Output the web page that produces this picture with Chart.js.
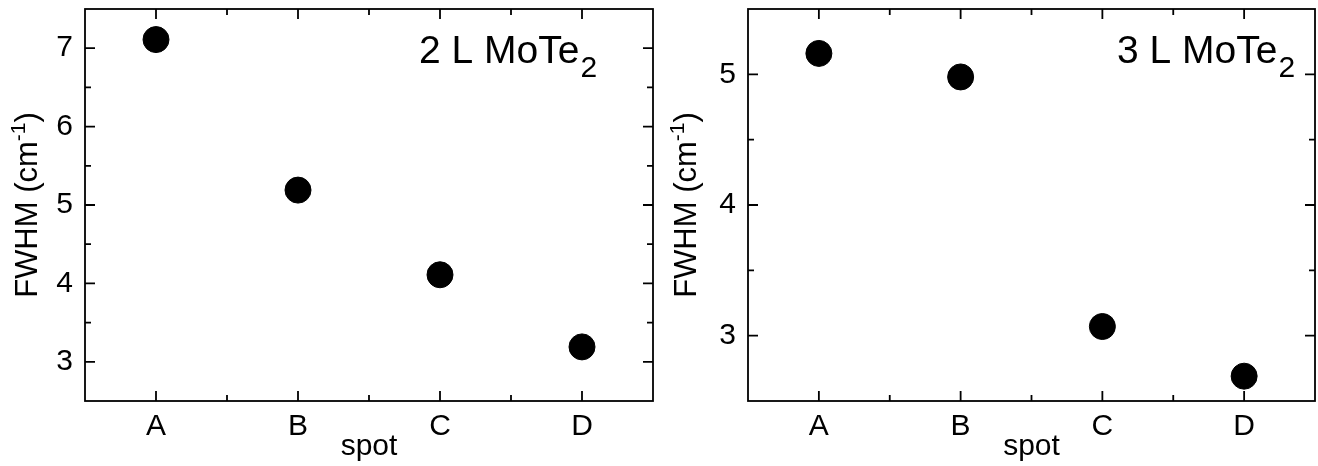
<!DOCTYPE html>
<html>
<head>
<meta charset="utf-8">
<script src="https://cdn.jsdelivr.net/npm/chart.js@4"></script>
<style>
  body { margin: 0; background: #fff; }
  .panel { position: absolute; top: 0; width: 659px; height: 466px; }
</style>
</head>
<body>
<div class="panel" style="left:0"><canvas id="chart2L" width="659" height="466"></canvas></div>
<div class="panel" style="left:659px"><canvas id="chart3L" width="659" height="466"></canvas></div>
<script>
/* ============== Data ============== */

const spots = ["A", "B", "C", "D"];
const fwhm2L = [7.11, 5.19, 4.11, 3.19];
const fwhm3L = [5.16, 4.98, 3.07, 2.69];
const yTicks2L = [3, 4, 5, 6, 7];
const yTicks3L = [3, 4, 5];

const FONT = "'Liberation Sans', Arial, sans-serif";

/* ============== Frame / inward ticks / labels plugin ============== */

/**
 * Draws the closed box with inward major and minor ticks, the rotated y title
 * with superscript and the sample label with subscript.
 */
const framePlugin = {
    id: "frame",
    afterDraw(chart, args, opts) {
        const ctx = chart.ctx;
        const {left, right, top, bottom} = chart.chartArea;
        const x = chart.scales.x;
        const y = chart.scales.y;
        const major = 10, minor = 6;

        ctx.save();
        ctx.strokeStyle = "#000";
        ctx.lineWidth = 1.8;
        ctx.strokeRect(left, top, right - left, bottom - top);

        ctx.beginPath();
        // x ticks: major at categories, minor between them
        for (let i = 0; i < spots.length; i++) {
            const px = x.getPixelForValue(i);
            ctx.moveTo(px, bottom); ctx.lineTo(px, bottom - major);
            ctx.moveTo(px, top); ctx.lineTo(px, top + major);
            if (i < spots.length - 1) {
                const pm = x.getPixelForValue(i + 0.5);
                ctx.moveTo(pm, bottom); ctx.lineTo(pm, bottom - minor);
                ctx.moveTo(pm, top); ctx.lineTo(pm, top + minor);
            }
        }
        // y ticks: every 0.5, major on whole numbers
        for (let v = y.min + 0.5; v < y.max - 0.01; v += 0.5) {
            const py = y.getPixelForValue(v);
            const len = Number.isInteger(v) ? major : minor;
            ctx.moveTo(left, py); ctx.lineTo(left + len, py);
            ctx.moveTo(right, py); ctx.lineTo(right - len, py);
        }
        ctx.stroke();

        ctx.fillStyle = "#000";
        ctx.textBaseline = "alphabetic";
        ctx.textAlign = "left";

        // sample label, e.g. 2 L MoTe2
        ctx.font = "39px " + FONT;
        const tx = left + opts.labelX;
        ctx.fillText(opts.label, tx, opts.labelY);
        const w = ctx.measureText(opts.label).width;
        ctx.font = "30px " + FONT;
        ctx.fillText("2", tx + w + 1, opts.labelY + 14);

        // y axis title FWHM (cm-1)
        const mainTxt = "FWHM (cm", supTxt = "-1", tailTxt = ")";
        ctx.font = "31px " + FONT;
        const w1 = ctx.measureText(mainTxt).width;
        const w3 = ctx.measureText(tailTxt).width;
        ctx.font = "21px " + FONT;
        const w2 = ctx.measureText(supTxt).width;
        const total = w1 + w2 + w3;
        ctx.translate(opts.titleX, (top + bottom) / 2);
        ctx.rotate(-Math.PI / 2);
        let cx = -total / 2;
        ctx.font = "31px " + FONT;
        ctx.fillText(mainTxt, cx, 0);
        cx += w1;
        ctx.font = "21px " + FONT;
        ctx.fillText(supTxt, cx, -12);
        cx += w2;
        ctx.font = "31px " + FONT;
        ctx.fillText(tailTxt, cx, 0);
        ctx.restore();
    }
};

/**
 * Removes the extra room Chart.js keeps for half tick labels at the axis ends.
 */
function clearScalePadding(scale) {
    scale.paddingTop = 0;
    scale.paddingBottom = 0;
    scale.paddingLeft = 0;
    scale.paddingRight = 0;
}

/* ============== Chart config ============== */

/**
 * Returns the configuration for one FWHM panel.
 * @param values FWHM per spot
 * @param yTicks tick values of the y axis
 * @param yMax upper limit of y axis
 * @param layout positions of the panel (axis width, paddings, labels)
 */
function configureFwhmChart(values, yTicks, yMax, layout) {
    return {
        type: "line",
        data: {
            labels: spots,
            datasets: [{
                data: values,
                showLine: false,
                pointRadius: 13,
                pointHoverRadius: 13,
                pointBackgroundColor: "#000",
                pointBorderColor: "#000",
                pointBorderWidth: 1,
                clip: false
            }]
        },
        options: {
            responsive: false,
            animation: false,
            devicePixelRatio: 1,
            events: [],
            layout: {autoPadding: false, padding: {top: 9, right: layout.padRight, left: 0, bottom: 0}},
            plugins: {
                legend: {display: false},
                tooltip: {enabled: false},
                frame: {label: layout.label, labelX: layout.labelX, labelY: 63, titleX: 37}
            },
            scales: {
                x: {
                    type: "category",
                    offset: true,
                    grid: {display: false, drawTicks: false},
                    border: {display: false},
                    ticks: {color: "#000", padding: 8, font: {family: FONT, size: 30}},
                    title: {
                        display: true, text: "spot", color: "#000",
                        font: {family: FONT, size: 30, lineHeight: 1.2},
                        padding: {top: 0, bottom: 1}
                    },
                    afterFit: scale => { scale.height = 65; clearScalePadding(scale); }
                },
                y: {
                    min: 2.5,
                    max: yMax,
                    grid: {display: false, drawTicks: false},
                    border: {display: false},
                    ticks: {color: "#000", padding: 12, font: {family: FONT, size: 30}},
                    afterBuildTicks: scale => { scale.ticks = yTicks.map(v => ({value: v})); },
                    afterFit: scale => { scale.width = layout.axisWidth; clearScalePadding(scale); }
                }
            }
        },
        plugins: [framePlugin]
    };
}

new Chart(document.getElementById("chart2L"),
    configureFwhmChart(fwhm2L, yTicks2L, 7.5, {axisWidth: 85, padRight: 6, label: "2 L MoTe", labelX: 334}));
new Chart(document.getElementById("chart3L"),
    configureFwhmChart(fwhm3L, yTicks3L, 5.5, {axisWidth: 89, padRight: 3, label: "3 L MoTe", labelX: 369}));
</script>
</body>
</html>
